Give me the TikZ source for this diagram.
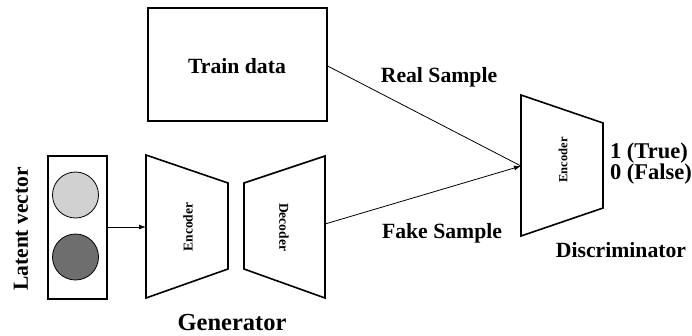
\documentclass[tikz,border=0pt]{standalone}
\usepackage{fontspec}
\setmainfont{Liberation Serif}
\usetikzlibrary{arrows.meta}
\tikzset{
  box/.style={draw, line width=1.6pt},
  block/.style={draw, line width=1.6pt, line join=miter},
  link/.style={line width=0.8pt, -{Latex[length=7pt,width=5pt]}},
  lbl/.style={font=\fontsize{21.7}{24}\selectfont\bfseries, inner sep=0pt},
  small/.style={font=\fontsize{13.5}{15}\selectfont\bfseries, inner sep=0pt},
}
\begin{document}
\begin{tikzpicture}[x=1pt,y=-1pt]
\useasboundingbox (0,0) rectangle (692,335);

% training data
\node[box, minimum width=179pt, minimum height=113pt, anchor=north west] (train) at (147,7) {};
\node[lbl] (traintxt) at (237,66) {Train data};

% latent vector
\node[box, minimum width=59pt, minimum height=143pt, anchor=north west] (latent) at (47,155) {};
\node[circle, draw, line width=0.8pt, fill=black!18, minimum size=46pt] (z1) at (75.5,195) {};
\node[circle, draw, line width=0.8pt, fill=black!57, minimum size=46pt] (z2) at (75.5,257) {};
\node[lbl, rotate=90, font=\fontsize{21.5}{24}\selectfont\bfseries] (ltxt) at (21,229) {Latent vector};

% generator encoder
\draw[block] (146,155) -- (228,183) -- (228,269) -- (146,298) -- cycle;
\coordinate (genin) at (146,227);
\node[small, rotate=90] (genenc) at (188,227) {Encoder};

% generator decoder
\draw[block] (244,183) -- (325,156) -- (325,298) -- (244,269) -- cycle;
\coordinate (genout) at (325,224);
\node[small, rotate=-90] (gendec) at (284,227) {Decoder};
\node[lbl, font=\fontsize{24.5}{27}\selectfont\bfseries] (gentxt) at (232,322) {Generator};

% discriminator
\draw[block] (521,95) -- (603,123) -- (603,208) -- (521,236) -- cycle;
\coordinate (discin) at (521,166);
\node[small, rotate=90, font=\fontsize{12.5}{14}\selectfont\bfseries] (discenc) at (563,160) {Encoder};
\node[lbl] (disctxt) at (621,250) {Discriminator};
\node[lbl, align=left, font=\fontsize{22.5}{25}\selectfont\bfseries] (outtxt) at (651,164) {1 (True)\\[-4pt]0 (False)};

% connectors
\draw[link] (latent.east |- genin) -- (genin);
\draw[line width=0.8pt] (train.east |- traintxt) -- (discin);
\draw[link] (genout) -- (discin);
\node[lbl] (realtxt) at (439,77) {Real Sample};
\node[lbl] (faketxt) at (442,233) {Fake Sample};
\end{tikzpicture}
\end{document}
